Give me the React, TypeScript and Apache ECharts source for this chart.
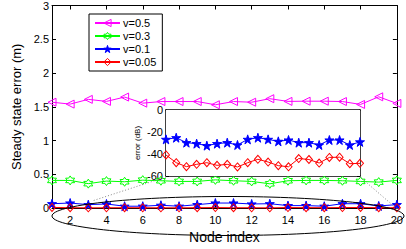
import React, { useEffect, useRef } from "react";
import * as echarts from "echarts";

const nodes = [1, 2, 3, 4, 5, 6, 7, 8, 9, 10, 11, 12, 13, 14, 15, 16, 17, 18, 19, 20];
const xTickValues = [2, 4, 6, 8, 10, 12, 14, 16, 18, 20];
const insetXTicks = [5, 10, 15];
const seriesNames = ["v=0.5", "v=0.3", "v=0.1", "v=0.05"];
const seriesColors = ["#ff00ff", "#00ff00", "#0000ff", "#ff0000"];

const errV05 = [1.568, 1.54, 1.61, 1.58, 1.644, 1.554, 1.578, 1.578, 1.578, 1.53, 1.578, 1.568, 1.62, 1.58, 1.583, 1.583, 1.578, 1.535, 1.648, 1.55];
const errV03 = [0.41, 0.41, 0.362, 0.4, 0.39, 0.414, 0.405, 0.395, 0.395, 0.418, 0.405, 0.395, 0.36, 0.405, 0.41, 0.41, 0.405, 0.395, 0.385, 0.41];
const errV01 = [0.065, 0.075, 0.051, 0.061, 0.028, 0.028, 0.042, 0.028, 0.051, 0.075, 0.075, 0.061, 0.065, 0.037, 0.037, 0.028, 0.065, 0.065, 0.032, 0.051];
const errV005 = [0.01, 0.006, 0.004, 0.005, 0.006, 0.005, 0.005, 0.004, 0.006, 0.008, 0.006, 0.005, 0.004, 0.008, 0.007, 0.006, 0.008, 0.009, 0.006, 0.006];

const dbV01 = [-26.7, -25.2, -29.7, -30.6, -32.4, -30.6, -29.7, -31.8, -26.7, -25.2, -26.7, -28.5, -27.3, -29.7, -29.7, -31.8, -27.3, -27.3, -31.8, -29.0];
const dbV005 = [-40.9, -47.9, -51.5, -49.4, -47.9, -50.3, -49.4, -51.8, -47.9, -44.8, -47.3, -50.6, -51.6, -44.1, -45.0, -48.2, -43.1, -42.9, -48.8, -48.5];

const HEXAGRAM = "path://M50,0L64.4,25L93.3,25L78.9,50L93.3,75L64.4,75L50,100L35.6,75L6.7,75L21.1,50L6.7,25L35.6,25Z";
const PENTAGRAM = "path://M50,0L61.2,34.5L97.6,34.5L68.2,55.9L79.4,90.5L50,69.1L20.6,90.5L31.8,55.9L2.4,34.5L38.8,34.5Z";

const FONT = "Liberation Sans, Arial, Helvetica, sans-serif";
const CLEAR = "rgba(255,255,255,0)";

function pair(values: number[]) {
  return nodes.map((n, i) => [n, values[i]]);
}

export default function App() {
  const ref = useRef<HTMLDivElement>(null);
  useEffect(() => {
    if (!ref.current) return;
    const chart = echarts.init(ref.current, null, { renderer: "svg" });

    const mk = (
      name: string,
      data: number[],
      color: string,
      symbol: string,
      size: number | number[],
      filled: boolean,
      rotate: number,
      xi: number,
      yi: number
    ) => ({
      name,
      type: "line",
      xAxisIndex: xi,
      yAxisIndex: yi,
      data: pair(data),
      symbol,
      symbolSize: size,
      symbolRotate: rotate,
      showAllSymbol: true,
      clip: false,
      lineStyle: { color, width: 1 },
      itemStyle: { color: filled ? color : CLEAR, borderColor: color, borderWidth: 1 },
      z: 3,
    });

    const axisCommon = {
      axisLine: { show: true, onZero: false, lineStyle: { color: "#000", width: 1 } },
      splitLine: { show: false },
    };

    const legendFilled = [false, false, true, false];

    chart.setOption({
      animation: false,
      backgroundColor: "#fff",
      textStyle: { fontFamily: FONT },
      grid: [
        { left: 52, top: 3, width: 352, height: 214, containLabel: false },
        { left: 166, top: 110, width: 194, height: 66, show: true, backgroundColor: "#fff", borderWidth: 0, z: 5 },
      ],
      legend: {
        data: seriesNames.map((n, i) => ({
          name: n,
          itemStyle: { color: legendFilled[i] ? seriesColors[i] : CLEAR, borderColor: seriesColors[i], borderWidth: 1 },
        })),
        orient: "vertical",
        left: 89,
        top: 14,
        padding: [3, 6, 3, 5],
        itemGap: 1,
        itemWidth: 25,
        itemHeight: 9,
        borderColor: "#000",
        borderWidth: 1,
        backgroundColor: "#fff",
        borderRadius: 0,
        textStyle: { fontSize: 11, color: "#000", fontFamily: FONT, lineHeight: 12, padding: [0, 0, 0, -2] },
        z: 10,
      },
      xAxis: [
        {
          type: "value", gridIndex: 0, min: 1, max: 20, position: "bottom",
          name: "Node index", nameLocation: "middle", nameGap: 19,
          nameTextStyle: { fontSize: 14, color: "#000", fontFamily: FONT },
          axisTick: { show: true, inside: true, length: 4, customValues: xTickValues, lineStyle: { color: "#000" } },
          axisLabel: { show: true, customValues: xTickValues, fontSize: 11, color: "#000", margin: 6, fontFamily: FONT },
          ...axisCommon,
        },
        {
          type: "value", gridIndex: 0, min: 1, max: 20, position: "top",
          axisTick: { show: true, inside: true, length: 4, customValues: xTickValues, lineStyle: { color: "#000" } },
          axisLabel: { show: false },
          ...axisCommon,
        },
        {
          type: "value", gridIndex: 1, min: 1, max: 20, position: "bottom",
          axisTick: { show: true, inside: true, length: 3, customValues: insetXTicks, lineStyle: { color: "#000" } },
          axisLabel: { show: false },
          axisLine: { show: true, onZero: false, lineStyle: { color: "#000", width: 1.5 } },
          splitLine: { show: false },
        },
        {
          type: "value", gridIndex: 1, min: 1, max: 20, position: "top",
          axisTick: { show: true, inside: true, length: 3, customValues: insetXTicks, lineStyle: { color: "#000" } },
          axisLabel: { show: false },
          axisLine: { show: true, onZero: false, lineStyle: { color: "#000", width: 1.5 } },
          splitLine: { show: false },
        },
      ],
      yAxis: [
        {
          type: "value", gridIndex: 0, min: 0, max: 3, interval: 0.5, position: "left",
          name: "Steady state error (m)", nameLocation: "middle", nameGap: 21,
          nameTextStyle: { fontSize: 13, color: "#000", fontFamily: FONT },
          axisTick: { show: true, inside: true, length: 4, lineStyle: { color: "#000" } },
          axisLabel: { show: true, fontSize: 11, color: "#000", margin: 3, fontFamily: FONT },
          ...axisCommon,
        },
        {
          type: "value", gridIndex: 0, min: 0, max: 3, interval: 0.5, position: "right",
          axisTick: { show: true, inside: true, length: 4, lineStyle: { color: "#000" } },
          axisLabel: { show: false },
          ...axisCommon,
        },
        {
          type: "value", gridIndex: 1, min: -60, max: 0, interval: 20, position: "left",
          name: "error (dB)", nameLocation: "middle", nameGap: 25,
          nameTextStyle: { fontSize: 8, color: "#000", fontFamily: FONT },
          axisTick: { show: true, inside: true, length: 3, lineStyle: { color: "#000" } },
          axisLabel: { show: true, fontSize: 11, color: "#000", margin: 3, fontFamily: FONT },
          axisLine: { show: true, onZero: false, lineStyle: { color: "#000", width: 1.5 } },
          splitLine: { show: false },
        },
        {
          type: "value", gridIndex: 1, min: -60, max: 0, interval: 20, position: "right",
          axisTick: { show: true, inside: true, length: 3, lineStyle: { color: "#000" } },
          axisLabel: { show: false },
          axisLine: { show: true, onZero: false, lineStyle: { color: "#000", width: 1.5 } },
          splitLine: { show: false },
        },
      ],
      series: [
        mk(seriesNames[0], errV05, seriesColors[0], "triangle", 8, false, 90, 0, 0),
        mk(seriesNames[1], errV03, seriesColors[1], HEXAGRAM, 9, false, 0, 0, 0),
        mk(seriesNames[2], errV01, seriesColors[2], PENTAGRAM, 9, true, 0, 0, 0),
        mk(seriesNames[3], errV005, seriesColors[3], "diamond", [7, 8], false, 0, 0, 0),
        { ...mk(seriesNames[2], dbV01, seriesColors[2], PENTAGRAM, 9, true, 0, 2, 2), z: 6 },
        { ...mk(seriesNames[3], dbV005, seriesColors[3], "diamond", [7, 8], false, 0, 2, 2), z: 6 },
      ],
      graphic: [
        {
          type: "ellipse", silent: true, z: 4,
          shape: { cx: 228, cy: 216, rx: 176, ry: 19.5 },
          style: { fill: "none", stroke: "#000", lineWidth: 1 },
        },
        {
          type: "line", silent: true, z: 4,
          shape: { x1: 166, y1: 177, x2: 92, y2: 201 },
          style: { stroke: "#888", lineWidth: 1, lineDash: [1, 2] },
        },
        {
          type: "line", silent: true, z: 4,
          shape: { x1: 360, y1: 177, x2: 403, y2: 214 },
          style: { stroke: "#888", lineWidth: 1, lineDash: [1, 2] },
        },
      ],
    });
    return () => chart.dispose();
  }, []);
  return <div ref={ref} style={{ width: 406, height: 249, position: "absolute", left: 0, top: 0 }} />;
}
